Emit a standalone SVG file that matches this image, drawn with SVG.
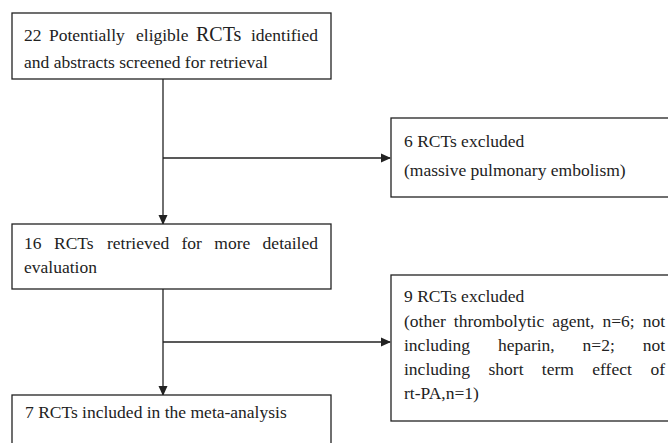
<svg xmlns="http://www.w3.org/2000/svg" width="668" height="443" viewBox="0 0 668 443">
<style>
rect{fill:#fff;stroke:#222;stroke-width:1.3}
text{font-family:"Liberation Serif","Times New Roman",serif;font-size:17.5px;fill:#222}
.e{text-anchor:end}
.c line{stroke:#222;stroke-width:1.3}
</style>
<defs>
<marker id="ah" markerWidth="10" markerHeight="10" refX="9" refY="5" orient="auto" markerUnits="userSpaceOnUse">
<path d="M0,0.5 L10,5 L0,9.5 Z" fill="#222"/>
</marker>
</defs>
<rect x="0" y="0" width="668" height="443" style="stroke:none"/>
<g class="c" id="connectors">
<line x1="163" y1="79" x2="163" y2="224" marker-end="url(#ah)"/>
<line x1="163" y1="158" x2="390" y2="158" marker-end="url(#ah)"/>
<line x1="163" y1="289" x2="163" y2="395" marker-end="url(#ah)"/>
<line x1="163" y1="342" x2="390" y2="342" marker-end="url(#ah)"/>
</g>
<g id="n1">
<rect x="12" y="13" width="319" height="66"/>
<text x="24" y="41">22</text>
<text x="49" y="41">Potentially</text>
<text x="136" y="41">eligible</text>
<text x="196" y="41" style="font-size:20px">RCTs</text>
<text x="318" y="41" class="e">identified</text>
<text x="24" y="68">and abstracts screened for retrieval</text>
</g>
<g id="n2">
<rect x="391" y="118" width="280" height="79"/>
<text x="404" y="147">6 RCTs excluded</text>
<text x="404" y="176">(massive pulmonary embolism)</text>
</g>
<g id="n3">
<rect x="12" y="224" width="319" height="65"/>
<text x="24" y="249">16</text>
<text x="54" y="249">RCTs</text>
<text x="107" y="249">retrieved</text>
<text x="181.5" y="249">for</text>
<text x="214.3" y="249">more</text>
<text x="318" y="249" class="e">detailed</text>
<text x="24" y="273">evaluation</text>
</g>
<g id="n4">
<rect x="391" y="275" width="280" height="146"/>
<text x="404" y="302">9 RCTs excluded</text>
<text x="404" y="327">(other</text>
<text x="453.8" y="327">thrombolytic</text>
<text x="552.2" y="327">agent,</text>
<text x="602.5" y="327">n=6;</text>
<text x="665" y="327" class="e">not</text>
<text x="404" y="351">including</text>
<text x="497.9" y="351">heparin,</text>
<text x="582.6" y="351">n=2;</text>
<text x="665" y="351" class="e">not</text>
<text x="404" y="375">including</text>
<text x="488.5" y="375">short</text>
<text x="541.8" y="375">term</text>
<text x="592.3" y="375">effect</text>
<text x="665" y="375" class="e">of</text>
<text x="404" y="399">rt-PA,n=1)</text>
</g>
<g id="n5">
<rect x="12" y="395" width="319" height="60"/>
<text x="25" y="418">7 RCTs included in the meta-analysis</text>
</g>
</svg>
